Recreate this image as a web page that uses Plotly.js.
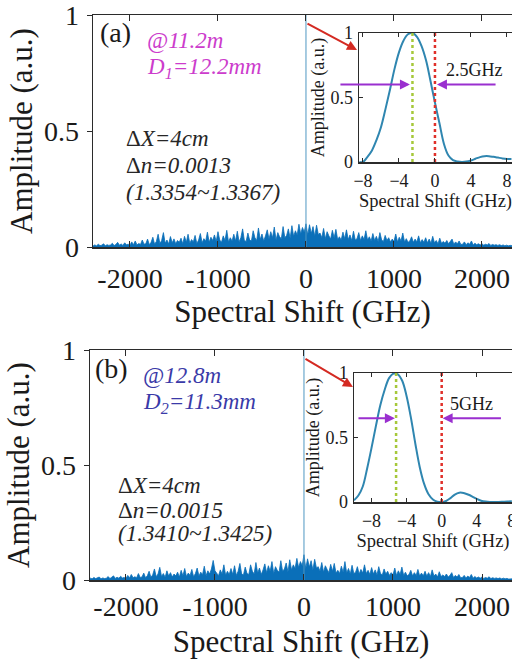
<!DOCTYPE html>
<html>
<head>
<meta charset="utf-8">
<script src="https://cdn.plot.ly/plotly-3.0.1.min.js"></script>
<style>html,body{margin:0;padding:0;background:#fff;overflow:hidden;}#chart{width:512px;height:659px;}</style>
</head>
<body>
<div id="chart"></div>
<script>
// ---- data ----
// main spectra: sampled every 20 GHz starting at -2420 GHz, amplitudes in 0.001 a.u.
var noiseStartGHz = -2420;
var noiseStepGHz = 20;
var noiseA_milli = [
 4,9,5,12,6,8,14,5,10,7,
 9,16,6,11,20,8,13,7,18,10,
 12,8,22,10,26,9,15,11,30,12,
 14,34,10,20,42,12,24,55,15,28,
 62,16,30,13,45,18,35,14,28,20,
 38,14,46,20,55,16,32,22,50,15,
 30,58,18,36,25,64,20,42,28,52,
 24,66,30,20,48,28,72,22,40,26,
 55,26,68,22,40,78,28,24,60,30,
 26,70,40,28,82,32,56,26,48,74,
 34,66,40,86,30,62,44,36,88,40,
 50,78,38,92,46,70,52,98,56,84,
 64,100,52,96,58,88,46,94,54,60,
 40,80,36,66,48,34,72,40,76,32,
 44,30,64,36,74,32,52,28,68,30,
 36,62,28,48,32,70,30,44,26,58,
 28,46,24,62,30,24,50,28,40,22,
 34,24,56,22,42,26,60,22,36,20,
 26,44,20,34,22,48,18,32,20,40,
 18,34,16,46,18,28,14,38,16,24,
 16,28,14,22,34,12,22,14,26,11,
 12,22,10,18,12,26,9,16,10,14,
 9,14,8,12,9,15,7,11,8,10,
 7,10,6,9,5,8,5,7,6
];
var noiseB_milli = [
 4,8,5,11,6,9,13,5,9,6,
 8,15,6,12,18,7,12,8,16,9,
 11,7,20,9,24,10,14,10,28,11,
 13,30,10,18,38,12,22,48,14,26,
 55,15,28,12,40,17,32,13,26,18,
 34,13,42,18,50,15,30,20,46,14,
 28,52,17,34,23,60,19,40,26,48,
 85,40,28,19,44,26,66,21,38,24,
 50,24,62,20,38,72,26,22,56,28,
 24,66,38,26,76,30,52,24,44,70,
 32,62,38,80,28,58,42,34,84,38,
 48,74,36,88,44,66,50,94,54,80,
 62,110,50,92,56,84,44,90,52,58,
 38,76,34,62,46,32,68,38,72,30,
 42,28,60,34,80,30,50,26,64,28,
 34,58,26,46,30,66,28,42,24,54,
 26,44,22,58,28,22,48,26,38,20,
 32,22,52,20,40,24,56,20,34,18,
 24,42,18,32,20,46,17,30,18,38,
 17,32,15,44,17,26,13,36,15,22,
 15,26,13,20,32,11,20,13,24,10,
 11,20,9,17,11,24,8,15,9,13,
 8,13,7,11,8,14,6,10,7,9,
 6,9,5,8,5,7,4,6,5
];
// central correlation peak
var peakX = [0];
var peakA = [1];
var peakB = [1];

// inset (a) zoomed peak
var insetAx = [-8.4,-8,-7.5,-7,-6.5,-6,-5.5,-5,-4.5,-4,-3.5,-3,-2.5,-2,-1.5,-1,-0.5,0,0.5,1,1.5,2,2.5,3,3.5,4,4.5,5,5.5,6,6.5,7,7.5,8,8.5];
var insetAy = [0,0,0.04,0.09,0.17,0.27,0.41,0.56,0.72,0.85,0.94,0.99,1.0,0.97,0.9,0.79,0.63,0.46,0.3,0.14,0.05,0.015,0.004,0,0.003,0.012,0.025,0.038,0.045,0.045,0.04,0.034,0.028,0.024,0.023];
var insetAPeak = -2.5, insetAShift = "2.5GHz";
// inset (b) zoomed peak
var insetBx = [-10,-9.5,-9,-8.5,-8,-7.5,-7,-6.5,-6,-5.5,-5,-4.5,-4,-3.5,-3,-2.5,-2,-1.5,-1,-0.5,0,0.5,1,1.5,2,2.5,3,3.5,4,4.5,5,5.5,6,6.5,7,7.5,8];
var insetBy = [0.013,0.05,0.12,0.26,0.42,0.59,0.75,0.87,0.96,0.995,0.99,0.94,0.82,0.65,0.45,0.27,0.14,0.06,0.02,0.003,0,0.008,0.03,0.058,0.072,0.07,0.058,0.042,0.024,0.01,0.003,0,0,0,0.002,0.004,0.005];
var insetBPeak = -5.2, insetBShift = "5GHz";
var refLine = 0;

var mainTicks = [-2000,-1000,0,1000,2000];
var mainTickText = ['-2000','-1000','0','1000','2000'];
var ampTicks = [0,0.5,1];
var ampTickText = ['0','0.5','1'];
var insetTicks = [-8,-4,0,4,8];

// ---- build ----
function toX(arr){ return arr.map(function(_,i){ return noiseStartGHz + i*noiseStepGHz; }); }
function toAmp(arr){ return arr.map(function(v){ return v/1000; }); }

var W = 512, H = 659;
function dx(px){ return px/W; }
function dy(py){ return 1 - py/H; }

var FONT = 'Liberation Serif, Times New Roman, serif';
var AX = '#2b2b2b';
var BLUE = '#0a6fb9';
var INSET = '#2f86b0';

var traces = [
 {x: toX(noiseA_milli), y: toAmp(noiseA_milli), xaxis:'x', yaxis:'y', type:'scatter', mode:'lines',
  line:{color:BLUE, width:0.8}, fill:'tozeroy', fillcolor:BLUE, hoverinfo:'skip'},
 {x: [peakX[0], peakX[0]], y: [0, peakA[0]], xaxis:'x', yaxis:'y', type:'scatter', mode:'lines',
  line:{color:'#4f97c2', width:1}},
 {x: insetAx, y: insetAy, xaxis:'x2', yaxis:'y2', type:'scatter', mode:'lines',
  line:{color:INSET, width:2, shape:'spline'}},
 {x: [insetAPeak, insetAPeak], y:[0,1], xaxis:'x2', yaxis:'y2', type:'scatter', mode:'lines',
  line:{color:'#a6c83a', width:2.5, dash:'dot'}},
 {x: [refLine, refLine], y:[0,1], xaxis:'x2', yaxis:'y2', type:'scatter', mode:'lines',
  line:{color:'#e0302a', width:2.5, dash:'dot'}},

 {x: toX(noiseB_milli), y: toAmp(noiseB_milli), xaxis:'x3', yaxis:'y3', type:'scatter', mode:'lines',
  line:{color:BLUE, width:0.8}, fill:'tozeroy', fillcolor:BLUE, hoverinfo:'skip'},
 {x: [peakX[0], peakX[0]], y: [0, peakB[0]], xaxis:'x3', yaxis:'y3', type:'scatter', mode:'lines',
  line:{color:'#4f97c2', width:1}},
 {x: insetBx, y: insetBy, xaxis:'x4', yaxis:'y4', type:'scatter', mode:'lines',
  line:{color:INSET, width:2, shape:'spline'}},
 {x: [insetBPeak, insetBPeak], y:[0,1], xaxis:'x4', yaxis:'y4', type:'scatter', mode:'lines',
  line:{color:'#a6c83a', width:2.5, dash:'dot'}},
 {x: [refLine, refLine], y:[0,1], xaxis:'x4', yaxis:'y4', type:'scatter', mode:'lines',
  line:{color:'#e0302a', width:2.5, dash:'dot'}}
];

function mainX(domain, range, anchor, lblStand, ttlStand){
  return {domain:domain, range:range, anchor:anchor, tickvals:mainTicks, ticktext:mainTickText,
    ticks:'inside', ticklen:6, tickwidth:1, tickcolor:AX, showline:true, linecolor:AX, linewidth:1.5,
    mirror:'ticks', showgrid:false, zeroline:false, ticklabelstandoff:lblStand, ticklabeloverflow:'allow',
    tickfont:{family:FONT, size:28, color:'#1a1a1a'},
    title:{text:'Spectral Shift (GHz)', font:{family:FONT, size:31, color:'#1a1a1a'}, standoff:ttlStand}};
}
function mainY(domain, anchor){
  return {domain:domain, range:[0,1], anchor:anchor, tickvals:ampTicks, ticktext:ampTickText,
    ticks:'outside', ticklen:5, tickwidth:1, tickcolor:AX, showline:true, linecolor:AX, linewidth:1.5,
    mirror:false, showgrid:false, zeroline:false, ticklabelstandoff:2, ticklabeloverflow:'allow',
    tickfont:{family:FONT, size:28, color:'#1a1a1a'},
    title:{text:'Amplitude (a.u.)', font:{family:FONT, size:31, color:'#1a1a1a'}, standoff:2}};
}
function insX(domain, range, anchor){
  return {domain:domain, range:range, anchor:anchor, tickvals:insetTicks,
    ticks:'inside', ticklen:4, tickwidth:1, tickcolor:AX, showline:true, linecolor:AX, linewidth:1.5,
    mirror:'ticks', showgrid:false, zeroline:false, ticklabelstandoff:2, ticklabeloverflow:'allow',
    tickfont:{family:FONT, size:18, color:'#1a1a1a'},
    title:{text:'Spectral Shift (GHz)', font:{family:FONT, size:18.5, color:'#1a1a1a'}, standoff:1}};
}
function insY(domain, anchor){
  return {domain:domain, range:[0,1], anchor:anchor, tickvals:ampTicks, ticktext:ampTickText,
    ticks:'inside', ticklen:4, tickwidth:1, tickcolor:AX, showline:true, linecolor:AX, linewidth:1.5,
    mirror:false, showgrid:false, zeroline:false, ticklabelstandoff:1, ticklabeloverflow:'allow',
    tickfont:{family:FONT, size:18, color:'#1a1a1a'},
    title:{text:'Amplitude (a.u.)', font:{family:FONT, size:18, color:'#1a1a1a'}, standoff:1}};
}

var MAG = '#cc3ccc', NAVY = '#3a3aa8', TXT = '#262626';
function txt(text, px, py, size, color, italic){
  return {text:text, xref:'paper', yref:'paper', x:dx(px), y:dy(py), xanchor:'left', yanchor:'middle',
    showarrow:false, font:{family:FONT, size:size, color:color, style: italic ? 'italic':'normal'}};
}
function purpleArrow(xr, yr, hx, tx, yv){
  return {xref:xr, yref:yr, axref:xr, ayref:yr, x:hx, y:yv, ax:tx, ay:yv, text:'', showarrow:true,
    arrowhead:2, arrowsize:1, arrowwidth:2, arrowcolor:'#9a2fcf', standoff:0, startstandoff:0};
}
function redArrow(xr, yr, hx, hy, tx, ty){
  return {xref:xr, yref:yr, axref:xr, ayref:yr, x:hx, y:hy, ax:tx, ay:ty, text:'', showarrow:true,
    arrowhead:2, arrowsize:1, arrowwidth:2, arrowcolor:'#d42a22', standoff:0};
}

var annotations = [
  txt('(a)', 98, 33, 28, '#1a1a1a', false),
  txt('@11.2m', 145, 40, 23, MAG, true),
  txt('D<sub>1</sub>=12.2mm', 145, 68, 23, MAG, true),
  txt('Δ<i>X=4cm</i>', 124, 138, 23, TXT, false),
  txt('Δ<i>n=0.0013</i>', 124, 166, 23, TXT, false),
  txt('<i>(1.3354~1.3367)</i>', 124, 192, 23, TXT, false),
  purpleArrow('x2','y2', -2.78, -10.67, 0.6),
  purpleArrow('x2','y2', 0.22, 6.9, 0.6),
  {xref:'x2', yref:'y2', x:4.4, y:0.71, text:insetAShift, showarrow:false,
   font:{family:FONT, size:18, color:'#1a1a1a'}},
  redArrow('x','y', 580, 0.849, 0, 0.966),

  txt('(b)', 93, 368, 28, '#1a1a1a', false),
  txt('@12.8m', 141, 375, 23, NAVY, true),
  txt('D<sub>2</sub>=11.3mm', 141, 403, 23, NAVY, true),
  txt('Δ<i>X=4cm</i>', 116, 485, 23, TXT, false),
  txt('Δ<i>n=0.0015</i>', 116, 510, 23, TXT, false),
  txt('<i>(1.3410~1.3425)</i>', 116, 533, 23, TXT, false),
  purpleArrow('x4','y4', -5.34, -9.66, 0.65),
  purpleArrow('x4','y4', 0.11, 6.93, 0.65),
  {xref:'x4', yref:'y4', x:3.4, y:0.76, text:insetBShift, showarrow:false,
   font:{family:FONT, size:18, color:'#1a1a1a'}},
  redArrow('x3','y3', 550, 0.839, 0, 0.965)
];

var layout = {
  width:W, height:H, margin:{l:0,r:0,t:0,b:0}, paper_bgcolor:'#fff', plot_bgcolor:'rgba(0,0,0,0)',
  showlegend:false,
  xaxis: mainX([dx(93),1], [-2420, 2341], 'y', 6, 2),
  yaxis: mainY([dy(247), dy(15)], 'x'),
  xaxis2: insX([dx(359),1], [-8.44, 8.56], 'y2'),
  yaxis2: insY([dy(162), dy(33)], 'x2'),
  xaxis3: mainX([dx(90),1], [-2404, 2337], 'y3', 1, 12),
  yaxis3: mainY([dy(580), dy(350)], 'x3'),
  xaxis4: insX([dx(354),1], [-10, 8.02], 'y4'),
  yaxis4: insY([dy(502), dy(373)], 'x4'),
  annotations: annotations
};

Plotly.newPlot('chart', traces, layout, {displayModeBar:false, staticPlot:true});
</script>
</body>
</html>
